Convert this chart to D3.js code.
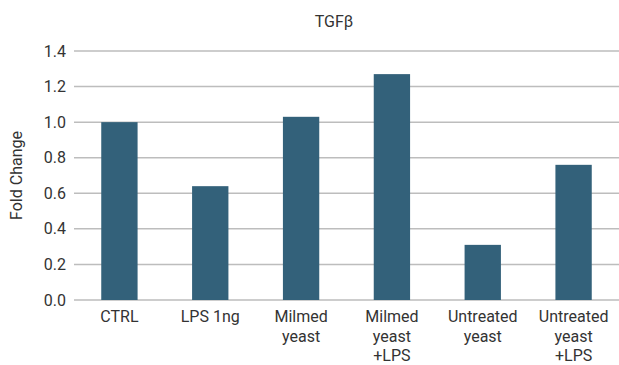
<!DOCTYPE html>
<html>
<head>
<meta charset="utf-8">
<script src="https://cdn.jsdelivr.net/npm/d3@7"></script>
<style>
  html, body { margin: 0; padding: 0; background: #fff; }
  svg { display: block; font-family: Roboto, "Noto Sans", sans-serif; }
</style>
</head>
<body>
<svg id="chart" width="619" height="365"></svg>
<script>
const title = "TGFβ";
const yAxisTitle = "Fold Change";
const categories = [
  ["CTRL"],
  ["LPS 1ng"],
  ["Milmed", "yeast"],
  ["Milmed", "yeast", "+LPS"],
  ["Untreated", "yeast"],
  ["Untreated", "yeast", "+LPS"]
];
const values = [1.0, 0.64, 1.03, 1.27, 0.31, 0.76];
const yTicks = [0, 0.2, 0.4, 0.6, 0.8, 1.0, 1.2, 1.4];

const svg = d3.select("#chart");
const mLeft = 74, mRight = 619, mTop = 51, mBottom = 300;
const keys = categories.map(c => c.join(" "));

const x = d3.scaleBand().domain(keys).range([mLeft, mRight]).paddingInner(0.6).paddingOuter(0.3);
const y = d3.scaleLinear().domain([0, 1.4]).range([mBottom, mTop]);

// gridlines
svg.append("g").selectAll("line").data(yTicks).join("line")
  .attr("x1", mLeft).attr("x2", mRight)
  .attr("y1", d => y(d)).attr("y2", d => y(d))
  .attr("stroke", "#bdbdbd").attr("stroke-width", 1.5);

// y axis labels
const yAxis = d3.axisLeft(y).tickValues(yTicks).tickFormat(d3.format(".1f")).tickSize(0).tickPadding(8);
const gy = svg.append("g").attr("transform", `translate(${mLeft},0)`).call(yAxis);
gy.select(".domain").remove();
gy.selectAll("text").attr("font-size", 16).attr("fill", "#333").attr("font-family", "Roboto, sans-serif");

// bars
svg.append("g").selectAll("rect").data(values).join("rect")
  .attr("x", (d, i) => x(keys[i]))
  .attr("width", x.bandwidth())
  .attr("y", d => y(d))
  .attr("height", d => y(0) - y(d))
  .attr("fill", "#33617a");

// x labels
const xl = svg.append("g").selectAll("text").data(categories).join("text")
  .attr("text-anchor", "middle")
  .attr("font-size", 16).attr("fill", "#333")
  .attr("transform", (d, i) => `translate(${x(keys[i]) + x.bandwidth() / 2},322)`);
xl.selectAll("tspan").data(d => d).join("tspan")
  .attr("x", 0).attr("y", (d, i) => i * 19.5).text(d => d);

// title
svg.append("text").attr("x", 334).attr("y", 27).attr("text-anchor", "middle")
  .attr("font-size", 16).attr("fill", "#333").text(title);

// y title
svg.append("text").attr("transform", `translate(22,${(mTop + mBottom) / 2}) rotate(-90)`)
  .attr("text-anchor", "middle").attr("font-size", 16).attr("fill", "#333").text(yAxisTitle);
</script>
</body>
</html>
